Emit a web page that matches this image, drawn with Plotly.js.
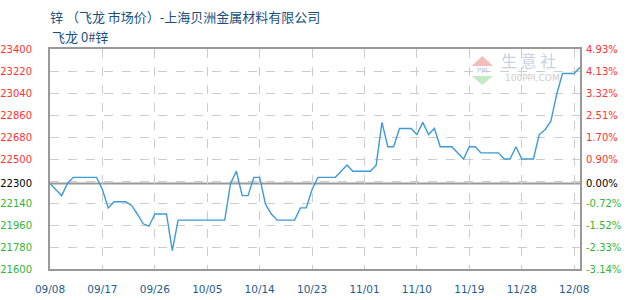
<!DOCTYPE html>
<html>
<head>
<meta charset="utf-8">
<script src="https://cdn.plot.ly/plotly-3.0.1.min.js"></script>
<style>html,body{margin:0;padding:0;background:#fff;}#chart{width:630px;height:300px;}</style>
</head>
<body>
<div id="chart"></div>
<script>
// ---- data ----
const titleText = '锌 （飞龙 市场价）-上海贝洲金属材料有限公司';
const subtitleText = '飞龙 0#锌';
const dates = ['2025-09-08','2025-09-10','2025-09-11','2025-09-12','2025-09-16','2025-09-17','2025-09-18','2025-09-19',
  '2025-09-21','2025-09-22','2025-09-23','2025-09-24','2025-09-25','2025-09-26','2025-09-28','2025-09-29','2025-09-30',
  '2025-10-08','2025-10-09','2025-10-10','2025-10-11','2025-10-12','2025-10-13','2025-10-14','2025-10-15','2025-10-16',
  '2025-10-17','2025-10-20','2025-10-21','2025-10-22','2025-10-23','2025-10-24','2025-10-27','2025-10-29','2025-10-30',
  '2025-11-02','2025-11-03','2025-11-04','2025-11-05','2025-11-06','2025-11-07','2025-11-09','2025-11-10','2025-11-11',
  '2025-11-12','2025-11-13','2025-11-14','2025-11-16','2025-11-18','2025-11-19','2025-11-20','2025-11-21','2025-11-24',
  '2025-11-25','2025-11-26','2025-11-27','2025-11-28','2025-11-30','2025-12-01','2025-12-02','2025-12-03','2025-12-04',
  '2025-12-05','2025-12-07','2025-12-08'];
const prices = [22300,22200,22300,22350,22350,22250,22100,22150,
  22150,22120,22050,21970,21950,22050,22050,21750,22000,
  22000,22300,22400,22200,22200,22350,22350,22130,22050,
  22000,22000,22100,22100,22250,22350,22350,22450,22400,
  22400,22450,22800,22600,22600,22750,22750,22700,22800,
  22700,22750,22600,22600,22500,22600,22600,22550,22550,
  22500,22500,22600,22500,22500,22700,22740,22810,23030,
  23200,23200,23250];
const baseValue = 22300;
const yTickVals = [21600,21780,21960,22140,22300,22500,22680,22860,23040,23220,23400];
const yGridVals = [21600,21780,21960,22140,22320,22500,22680,22860,23040,23220,23400];
const xTickVals = ['2025-09-08','2025-09-17','2025-09-26','2025-10-05','2025-10-14','2025-10-23','2025-11-01','2025-11-10','2025-11-19','2025-11-28','2025-12-07'];
const xTickText = ['09/08','09/17','09/26','10/05','10/14','10/23','11/01','11/10','11/19','11/28','12/08'];
const xRange = ['2025-09-08','2025-12-08'];
const yRange = [21600,23400];

// ---- styles ----
const UP = '#ff3333', DOWN = '#33b533', FLAT = '#000000';
function col(v){ return v > baseValue ? UP : (v < baseValue ? DOWN : FLAT); }
const leftText = yTickVals.map(v => '<span style="fill:' + col(v) + '">' + v + '</span>');
const rightText = yTickVals.map(v => '<span style="fill:' + col(v) + '">' + ((v - baseValue) / baseValue * 100).toFixed(2) + '%</span>');
const numFont = {family: 'DejaVu Sans, sans-serif', size: 10, color: '#000'};

const traces = [
  {x: dates, y: prices, type: 'scatter', mode: 'lines', line: {color: '#3d9ad8', width: 1.4}, hoverinfo: 'x+y', showlegend: false, yaxis: 'y'},
  // helpers so the percent axis and the grid axis are drawn (single points, invisible)
  {x: [dates[0]], y: [baseValue], type: 'scatter', mode: 'markers', marker: {opacity: 0}, showlegend: false, hoverinfo: 'skip', yaxis: 'y2'},
  {x: [dates[0]], y: [baseValue], type: 'scatter', mode: 'markers', marker: {opacity: 0}, showlegend: false, hoverinfo: 'skip', yaxis: 'y3'}
];

const layout = {
  width: 630, height: 300,
  margin: {l: 50, r: 50, t: 49, b: 31, pad: 0},
  paper_bgcolor: '#ffffff', plot_bgcolor: '#ffffff',
  title: {text: titleText, xref: 'container', yref: 'container', x: 50/630, xanchor: 'left', y: 1 - 17/300, yanchor: 'middle',
    font: {family: 'Noto Sans CJK SC, sans-serif', size: 13, color: '#1a4f7f'}},
  xaxis: {type: 'date', range: xRange, tickmode: 'array', tickvals: xTickVals, ticktext: xTickText,
    showgrid: true, gridcolor: '#cccccc', griddash: 'dash', gridwidth: 1,
    showline: true, linecolor: '#999999', linewidth: 2, mirror: true, zeroline: false,
    ticks: '', ticklabelstandoff: 9, tickfont: {family: 'DejaVu Sans, sans-serif', size: 10.5, color: '#1f5c8b'}},
  yaxis: {range: yRange, tickmode: 'array', tickvals: yTickVals, ticktext: leftText,
    showgrid: false, zeroline: false, showline: true, linecolor: '#999999', linewidth: 2, mirror: true,
    ticks: '', ticklabelstandoff: 14, tickfont: numFont},
  yaxis2: {range: yRange, overlaying: 'y', side: 'right', tickmode: 'array', tickvals: yTickVals, ticktext: rightText,
    showgrid: false, zeroline: false, showline: false, ticks: '', ticklabelstandoff: 5, tickfont: numFont},
  yaxis3: {range: yRange, overlaying: 'y', side: 'left', tickmode: 'array', tickvals: yGridVals, showticklabels: false,
    showgrid: true, gridcolor: '#cccccc', griddash: 'dash', gridwidth: 1, zeroline: false, showline: false, ticks: ''},
  shapes: [
    {type: 'line', xref: 'paper', yref: 'y', x0: 0, x1: 1, y0: baseValue, y1: baseValue, line: {color: '#999999', width: 2}, layer: 'below'},
    {type: 'path', xref: 'paper', yref: 'paper', path: 'M 0.7957 0.9227 L 0.8358 0.9227 L 0.8157 0.9682 Z', fillcolor: '#f5bcbc', line: {width: 0}, layer: 'below'},
    {type: 'path', xref: 'paper', yref: 'paper', path: 'M 0.7957 0.8773 L 0.8358 0.8773 L 0.8157 0.8364 Z', fillcolor: '#c4eac4', line: {width: 0}, layer: 'below'}
  ],
  annotations: [
    {text: subtitleText, xref: 'paper', yref: 'paper', x: 0, y: 1 + 13/220, xanchor: 'left', yanchor: 'middle', showarrow: false,
      font: {family: 'Noto Sans CJK SC, sans-serif', size: 13, color: '#1a4f7f'}},
    {text: '生 意 社', xref: 'paper', yref: 'paper', x: (528-50)/530, y: (269-60)/220, xanchor: 'center', yanchor: 'middle', showarrow: false,
      font: {family: 'Noto Sans CJK SC, sans-serif', size: 16, color: '#c9d0e3'}},
    {text: '100PPI.COM', xref: 'paper', yref: 'paper', x: (532-50)/530, y: (269-78)/220, xanchor: 'center', yanchor: 'middle', showarrow: false,
      font: {family: 'DejaVu Sans, sans-serif', size: 9, color: '#cccccc'}},
    {text: 'PPI', xref: 'paper', yref: 'paper', x: (482.3-50)/530, y: (269-71)/220, xanchor: 'center', yanchor: 'middle', showarrow: false,
      font: {family: 'DejaVu Sans, sans-serif', size: 7, color: '#b9c2da'}}
  ]
};

Plotly.newPlot('chart', traces, layout, {displayModeBar: false, staticPlot: true});
</script>
</body>
</html>
